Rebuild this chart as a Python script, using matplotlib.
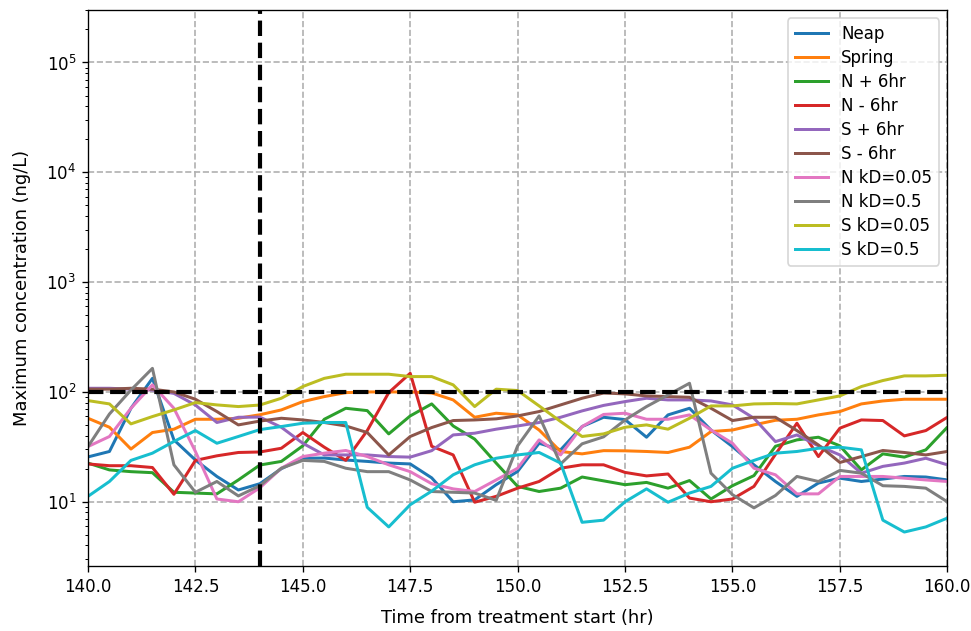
import matplotlib
matplotlib.use("Agg")
import matplotlib.pyplot as plt
import numpy as np

# half-hourly output, 140 to 160 hr
t = np.arange(140.0, 160.01, 0.5)

neap = [25.6, 28.7, 71, 133, 36.6, 24, 17, 12.8, 14.6,
        20, 24.9, 25, 24, 23.3, 22.5, 22.1, 16.5,
        10, 10.4, 14.3, 18.9, 34.1, 29.7, 48.4, 58.8,
        56, 38.7, 61.8, 71, 45, 31.8, 21.7, 15.3,
        11.2, 14.8, 16.4, 15.3, 16.1, 17.0, 16.8, 15.8]
spring = [57.6, 47.7, 30.2, 42.7, 45.8, 56.4, 56.4, 57.6, 62,
          68.6, 81.7, 90.7, 98.6, 100, 100, 100, 98,
          84.6, 58.8, 64, 61.8, 45, 28.7, 27.3, 29.2,
          29.1, 28.7, 28.1, 31.4, 43.6, 45, 50.1, 55.2,
          56.4, 61.8, 66.3, 77.8, 82.8, 85.8, 85.8, 85.8]
n_plus6 = [22.5, 19.5, 18.8, 18.4, 12.2, 12.0, 11.8, 15.8, 21.6,
           23.3, 32.3, 56.4, 71, 67.6, 41.5, 60.5, 77.8,
           49, 37.2, 22.5, 13.8, 12.4, 13.3, 16.8, 15.5,
           14.3, 15, 13.3, 15.6, 10.6, 14.0, 17.3, 32,
           36.6, 38.7, 32.3, 19.5, 27.3, 25.5, 29.7, 47.7]
n_minus6 = [22.1, 21.3, 21.3, 20.5, 11.7, 23.8, 26.2, 28.1, 28.4,
            30.7, 42.7, 31.4, 23.8, 44.5, 98.6, 148, 32,
            26.7, 9.9, 11.2, 13.3, 15.3, 20.2, 21.7, 21.7,
            18.5, 17.2, 17.9, 10.8, 10, 10.6, 13.8, 27,
            51.9, 25.8, 46.8, 55.6, 54.9, 39.8, 44.5, 58.8]
s_plus6 = [108, 108, 106, 104, 97, 76, 52.7, 58.8, 59,
           47.7, 34.1, 26.7, 26.7, 26.7, 25.8, 25.5, 29.2,
           40.6, 42.1, 45.8, 49, 52.7, 58.8, 67.2, 75.4,
           81.7, 87.6, 84.6, 84.6, 82.8, 76.2, 57.6, 35.3,
           40.6, 32.3, 26.7, 18.2, 21, 22.5, 24.9, 21.7]
s_minus6 = [106, 106, 108, 106, 100, 85.8, 66.3, 50.1, 54.3,
            57.6, 55.6, 52.7, 49, 42.7, 26.7, 39.3, 47.4,
            54.9, 55.6, 56.9, 60.5, 66.3, 76.2, 87.6, 97.8,
            96, 92, 90.7, 89.4, 71, 54.9, 58.8, 58.8,
            44.5, 32.9, 22.8, 25.8, 29.3, 28.1, 26.7, 28.7]
n_kd005 = [31.8, 39.3, 71, 116, 71, 28.7, 10.6, 10, 13.4,
           20.2, 25.8, 27.7, 29.3, 25.8, 21.7, 18.8, 14.6,
           13.1, 12.4, 15.8, 20.2, 36.6, 26.7, 48.4, 62.4,
           64, 56.4, 56.4, 61.8, 45, 34.1, 20.2, 17.6,
           11.8, 11.8, 17, 17, 17, 16.4, 15.8, 15.3]
n_kd05 = [31.8, 63, 104, 164, 21.7, 12.2, 15.3, 11.3, 14,
          20.2, 23.8, 23.3, 20.2, 18.8, 18.8, 15.8, 12.4,
          12.2, 12, 10.3, 32.3, 60.5, 22.1, 33.7, 39,
          55.6, 73.6, 93.9, 120, 18.2, 11.6, 8.8, 11.4,
          17, 15.3, 19.3, 18.2, 14, 13.8, 13.3, 10]
s_kd005 = [83.4, 77.8, 51.2, 59.7, 68.6, 80, 76.2, 73.6, 76,
           87.6, 112, 133, 145, 145, 145, 138, 138,
           116, 73.6, 106, 103, 74.6, 53.8, 39.3, 41.5,
           47.7, 50.1, 45.8, 57.6, 74.6, 74.6, 77.8, 78.4,
           77.8, 84.6, 92, 112, 127, 140, 140, 142]
s_kd05 = [11.2, 15.3, 23.8, 27.7, 35.4, 44.5, 34.1, 39.3, 45.4,
          48.4, 51.9, 52.7, 52.7, 8.9, 5.9, 9.4, 12.5,
          17.6, 21.7, 24.9, 26.7, 28.1, 22.5, 6.5, 6.8,
          10, 13.1, 9.9, 12, 13.8, 20.2, 23.8, 27.7,
          28.7, 30.7, 31.4, 29.7, 6.8, 5.3, 5.9, 7.1]

labels = ["Neap", "Spring", "N + 6hr", "N - 6hr", "S + 6hr", "S - 6hr",
          "N kD=0.05", "N kD=0.5", "S kD=0.05", "S kD=0.5"]
series = [neap, spring, n_plus6, n_minus6, s_plus6, s_minus6,
          n_kd005, n_kd05, s_kd005, s_kd05]

threshold = 100      # ng/L
t_treat_end = 144    # hr

dpi = 120
fig = plt.figure(figsize=(971 / dpi, 631 / dpi), dpi=dpi)
ax = fig.add_axes([0.0906, 0.103, 0.885, 0.881])

for y, lab in zip(series, labels):
    ax.plot(t, y, lw=1.8, label=lab)

ax.axhline(threshold, color="black", ls="--", lw=2.5)
ax.axvline(t_treat_end, color="black", ls="--", lw=2.5)

ax.set_yscale("log")
ax.set_xlim(140, 160)
ax.set_ylim(2.6, 3.0e5)
ax.grid(True, which="major", ls="--", color="#b0b0b0", lw=1)
ax.xaxis.set_major_formatter(matplotlib.ticker.FormatStrFormatter("%.1f"))

ax.set_xlabel("Time from treatment start (hr)", fontsize=10.7, labelpad=8)
ax.set_ylabel("Maximum concentration (ng/L)", fontsize=10.7, labelpad=9)
ax.legend(loc="upper right", labelspacing=0.36)

fig.savefig("out.png", dpi=dpi)
